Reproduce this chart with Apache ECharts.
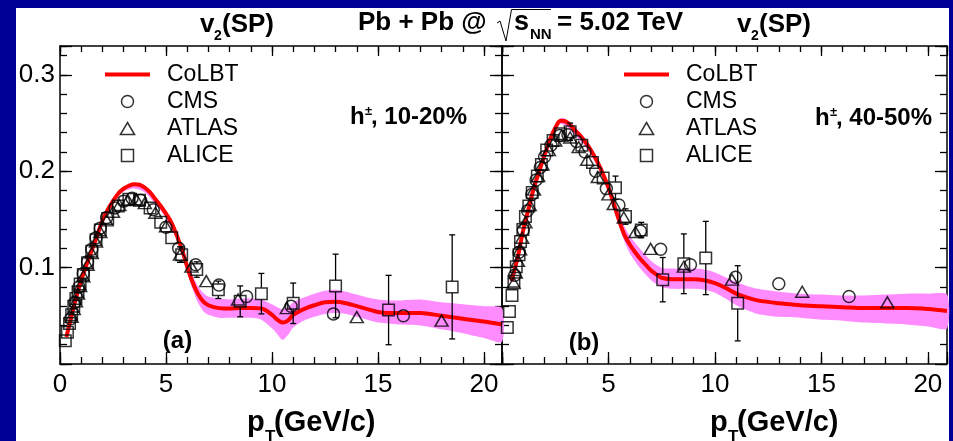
<!DOCTYPE html>
<html><head><meta charset="utf-8">
<script src="https://cdn.jsdelivr.net/npm/echarts@6/dist/echarts.min.js"></script>
<style>
html,body{margin:0;padding:0;background:#000096;overflow:hidden;}
#bg{position:absolute;left:16px;top:8px;width:933px;height:433px;background:#fff;}
#chart{position:absolute;left:0;top:0;width:953px;height:441px;}
</style></head><body>
<div id="bg"></div><div id="chart"></div>
<script>
// ---------------- data ----------------
// CoLBT curve, panel (a) 10-20% : [pT, v2]
const colbtA = [[0.3,0.028],[0.5,0.046],[0.75,0.068],[1.0,0.087],[1.25,0.103],[1.5,0.118],[1.75,0.133],[2.0,0.149],[2.25,0.160],[2.5,0.169],[2.75,0.177],[3.0,0.182],[3.25,0.185],[3.5,0.1865],[3.75,0.186],[4.0,0.183],[4.25,0.178],[4.5,0.171],[4.75,0.164],[5.0,0.156],[5.25,0.147],[5.5,0.134],[5.75,0.119],[6.0,0.101],[6.25,0.085],[6.5,0.073],[6.75,0.065],[7.0,0.061],[7.5,0.058],[8.0,0.0575],[8.5,0.058],[9.0,0.058],[9.5,0.0575],[10.0,0.051],[10.25,0.046],[10.5,0.043],[10.75,0.045],[11.0,0.051],[11.5,0.057],[12.0,0.061],[12.5,0.064],[13.0,0.0645],[13.5,0.063],[14.0,0.060],[14.5,0.057],[15.0,0.054],[15.5,0.053],[16.0,0.053],[17.0,0.053],[18.0,0.050],[19.0,0.047],[20.0,0.044],[20.85,0.041]];
// CoLBT uncertainty band, panel (a): [pT, low, high]
const bandA = [[0.3,0.026,0.030],[0.75,0.066,0.070],[1.25,0.101,0.105],[1.75,0.131,0.135],[2.25,0.158,0.162],[2.75,0.175,0.179],[3.0,0.179,0.184],[3.5,0.182,0.188],[4.0,0.178,0.185],[4.5,0.166,0.173],[5.0,0.151,0.159],[5.5,0.130,0.138],[6.0,0.095,0.106],[6.25,0.078,0.092],[6.5,0.064,0.081],[6.75,0.055,0.074],[7.0,0.051,0.070],[7.5,0.048,0.068],[8.0,0.048,0.067],[8.5,0.048,0.068],[9.0,0.048,0.068],[9.5,0.046,0.067],[10.0,0.037,0.062],[10.25,0.031,0.059],[10.5,0.025,0.057],[10.75,0.030,0.059],[11.0,0.038,0.064],[11.5,0.045,0.069],[12.0,0.049,0.073],[12.5,0.052,0.076],[13.0,0.053,0.077],[13.5,0.052,0.075],[14.0,0.049,0.072],[14.5,0.046,0.069],[15.0,0.043,0.067],[15.5,0.042,0.066],[16.0,0.041,0.066],[17.0,0.040,0.067],[18.0,0.036,0.064],[19.0,0.032,0.062],[20.0,0.027,0.060],[20.85,0.023,0.058]];
// experimental points, panel (a): [pT, v2, error]
const cmsA = [[0.5,0.047,0],[0.7,0.064,0],[0.9,0.080,0],[1.1,0.094,0],[1.3,0.106,0],[1.5,0.119,0],[1.7,0.131,0],[1.9,0.141,0],[2.2,0.152,0],[2.6,0.162,0],[3.0,0.169,0],[3.4,0.172,0],[3.8,0.170,0],[4.4,0.160,0],[5.0,0.142,0],[5.6,0.120,0],[6.4,0.103,0.004],[7.5,0.082,0.006],[8.8,0.070,0.004],[10.9,0.060,0.004],[12.9,0.052,0.004],[16.2,0.050,0.003]];
const atlasA = [[0.55,0.049,0],[0.65,0.057,0],[0.75,0.065,0],[0.85,0.073,0],[0.95,0.081,0],[1.1,0.091,0],[1.3,0.103,0],[1.5,0.115,0],[1.7,0.127,0],[1.9,0.137,0],[2.2,0.149,0],[2.5,0.158,0],[2.8,0.165,0],[3.2,0.170,0],[3.6,0.171,0],[4.0,0.167,0],[4.5,0.157,0],[5.0,0.143,0],[5.66,0.1135,0.008],[6.2,0.101,0],[6.9,0.086,0],[8.4,0.067,0],[10.7,0.058,0],[14.0,0.0486,0],[18.0,0.045,0]];
const aliceA = [[0.25,0.024,0],[0.35,0.033,0],[0.45,0.042,0],[0.55,0.051,0],[0.65,0.060,0],[0.75,0.068,0],[0.85,0.075,0],[0.95,0.083,0],[1.1,0.093,0],[1.3,0.105,0],[1.5,0.117,0],[1.7,0.129,0],[1.9,0.139,0],[2.25,0.151,0],[2.75,0.164,0],[3.25,0.171,0],[3.75,0.170,0],[4.25,0.162,0.003],[4.75,0.147,0.004],[5.27,0.131,0.006],[5.74,0.1135,0.008],[6.45,0.098,0.008],[7.47,0.077,0.009],[8.5,0.065,0.016],[9.5,0.073,0.021],[11.0,0.063,0.021],[13.0,0.081,0.033],[15.5,0.056,0.036],[18.5,0.080,0.054]];

// CoLBT curve, panel (b) 40-50%
const colbtB = [[0.45,0.086],[0.5,0.090],[0.75,0.112],[1.0,0.139],[1.25,0.161],[1.5,0.183],[1.75,0.200],[2.0,0.217],[2.25,0.233],[2.5,0.245],[2.75,0.2525],[3.0,0.2515],[3.25,0.247],[3.5,0.241],[3.75,0.235],[4.0,0.228],[4.25,0.219],[4.5,0.209],[4.75,0.197],[5.0,0.183],[5.25,0.166],[5.5,0.149],[5.75,0.134],[6.0,0.124],[6.25,0.116],[6.5,0.109],[6.75,0.103],[7.0,0.097],[7.25,0.093],[7.5,0.0895],[8.0,0.088],[8.5,0.088],[9.0,0.088],[9.5,0.087],[10.0,0.084],[10.5,0.079],[11.0,0.073],[11.5,0.069],[12.0,0.066],[13.0,0.063],[14.0,0.061],[15.0,0.060],[16.0,0.059],[17.0,0.058],[18.0,0.058],[19.0,0.058],[20.0,0.057],[20.9,0.055]];
const bandB = [[0.45,0.084,0.088],[1.0,0.137,0.141],[1.5,0.181,0.185],[2.0,0.215,0.219],[2.5,0.243,0.247],[2.75,0.249,0.255],[3.0,0.247,0.254],[3.5,0.236,0.243],[4.0,0.223,0.231],[4.5,0.204,0.212],[5.0,0.178,0.187],[5.25,0.160,0.172],[5.5,0.143,0.157],[5.75,0.127,0.143],[6.0,0.115,0.133],[6.5,0.099,0.119],[7.0,0.087,0.107],[7.5,0.080,0.100],[8.0,0.078,0.099],[9.0,0.078,0.099],[9.5,0.077,0.098],[10.0,0.074,0.095],[10.5,0.068,0.090],[11.0,0.061,0.085],[11.5,0.056,0.081],[12.0,0.052,0.078],[13.0,0.049,0.075],[14.0,0.048,0.073],[15.0,0.046,0.072],[16.0,0.045,0.071],[17.0,0.043,0.071],[18.0,0.042,0.072],[19.0,0.041,0.073],[20.0,0.039,0.073],[20.9,0.037,0.072]];
const cmsB = [[0.6,0.092,0],[0.8,0.116,0],[1.0,0.139,0],[1.2,0.159,0],[1.4,0.176,0],[1.6,0.191,0],[1.8,0.204,0],[2.0,0.215,0],[2.3,0.227,0],[2.7,0.237,0],[3.1,0.238,0],[3.5,0.231,0],[3.9,0.220,0],[4.4,0.200,0],[4.9,0.182,0],[5.49,0.165,0],[6.5,0.138,0.005],[7.45,0.119,0],[8.85,0.103,0.003],[10.97,0.090,0.006],[13.0,0.0833,0.005],[16.3,0.070,0.005]];
const atlasB = [[0.55,0.084,0],[0.65,0.095,0],[0.75,0.107,0],[0.85,0.119,0],[0.95,0.131,0],[1.1,0.147,0],[1.3,0.165,0],[1.5,0.181,0],[1.7,0.195,0],[1.9,0.207,0],[2.2,0.222,0],[2.5,0.232,0],[2.8,0.237,0],[3.2,0.235,0],[3.6,0.225,0],[4.0,0.212,0],[4.5,0.194,0],[5.0,0.176,0],[5.25,0.166,0],[5.72,0.152,0],[6.27,0.137,0],[6.98,0.1195,0],[8.54,0.101,0],[10.8,0.0875,0],[14.1,0.075,0],[18.1,0.064,0]];
const aliceB = [[0.25,0.038,0],[0.35,0.0545,0],[0.47,0.071,0],[0.56,0.086,0],[0.67,0.101,0],[0.8,0.1135,0],[0.87,0.127,0],[0.98,0.1395,0],[1.1,0.153,0],[1.26,0.164,0],[1.42,0.178,0],[1.66,0.195,0],[1.85,0.207,0],[2.1,0.222,0],[2.4,0.232,0],[2.75,0.239,0],[3.2,0.241,0.009],[3.75,0.227,0],[4.25,0.209,0.005],[4.75,0.193,0.006],[5.33,0.183,0.012],[5.8,0.153,0.008],[6.54,0.139,0.008],[7.55,0.0875,0.023],[8.54,0.104,0.031],[9.57,0.110,0.038],[11.07,0.063,0.039]];

// axis ticks
const xMajor = 5, xMinor = 1, yMajor = 0.1, yMinor = 0.02;
const xMaxA = 20.85, xMaxB = 20.9, yMin = 0, yMax = 0.33;
const legendNames = ['CoLBT', 'CMS', 'ATLAS', 'ALICE'];

// ---------------- styling / layout ----------------
const FONT = '"Liberation Sans", Arial, Helvetica, sans-serif';
const BAND = '#ff8cff', RED = '#ff0000';
const rectA = {left: 60, top: 46, width: 442, height: 318};
const rectB = {left: 502, top: 46, width: 445, height: 318};
// grids 0,1: main axes; grids 2,3: same rectangles, carrying the minor ticks
const grids = [rectA, rectB, rectA, rectB].map(r => Object.assign({outerBoundsMode: 'none', containLabel: false}, r));

function isMult(v, m) { return Math.abs(v / m - Math.round(v / m)) < 1e-6; }

const xAxes = [], yAxes = [];
function ax(g, pos, min, max, interval, len, lineShow, label) {
  return {type: 'value', gridIndex: g, position: pos, min: min, max: max, interval: interval,
    splitLine: {show: false}, minorTick: {show: false},
    axisLine: {show: lineShow, onZero: false, lineStyle: {color: '#000', width: 1.5}},
    axisTick: {show: true, inside: true, length: len, lineStyle: {color: '#000', width: 1.3}},
    axisLabel: label || {show: false}};
}
function addPanel(g, xmax, showY, hideX0) {
  const xl = {show: true, margin: 8, fontSize: 26, color: '#000', fontFamily: FONT, showMaxLabel: true, showMinLabel: true,
    formatter: v => (isMult(v, xMajor) && !(hideX0 && v === 0)) ? String(Math.round(v)) : ''};
  const yl = {show: showY, margin: 5, fontSize: 26, color: '#000', fontFamily: FONT,
    formatter: v => (v > 0.05 && isMult(v, yMajor)) ? v.toFixed(1) : ''};
  // main grid g: xAxis index 2g (bottom), 2g+1 (top); yAxis 2g (left), 2g+1 (right)
  xAxes[2 * g] = ax(g, 'bottom', 0, xmax, xMajor, 12, true, xl);
  xAxes[2 * g + 1] = ax(g, 'top', 0, xmax, xMajor, 10, true);
  yAxes[2 * g] = ax(g, 'left', yMin, yMax, yMajor, 12, true, yl);
  yAxes[2 * g + 1] = ax(g, 'right', yMin, yMax, yMajor, 12, true);
  // minor grid g+2
  const m = g + 2;
  xAxes[2 * m] = ax(m, 'bottom', 0, xmax, xMinor, 7, false);
  xAxes[2 * m + 1] = ax(m, 'top', 0, xmax, xMinor, 6, false);
  yAxes[2 * m] = ax(m, 'left', yMin, yMax, yMinor, 7, false);
  yAxes[2 * m + 1] = ax(m, 'right', yMin, yMax, yMinor, 7, false);
}
addPanel(0, xMaxA, true, false);
addPanel(1, xMaxB, false, true);

const markStyle = {color: 'rgba(0,0,0,0)', borderColor: '#000', borderWidth: 1.5};
const GAP = 6;

function bandSeries(g, band) {
  return {type: 'custom', xAxisIndex: 2 * g, yAxisIndex: 2 * g, silent: true, z: 1,
    data: band.map(d => [d[0], d[1], d[2]]),
    encode: {x: 0, y: [1, 2]},
    renderItem: function (params, api) {
      if (params.dataIndex !== 0) return null;
      const pts = [];
      for (let i = 0; i < band.length; i++) pts.push(api.coord([band[i][0], band[i][2]]));
      for (let i = band.length - 1; i >= 0; i--) pts.push(api.coord([band[i][0], band[i][1]]));
      return {type: 'polygon', shape: {points: pts, smooth: 0.25}, style: {fill: BAND, stroke: null}};
    }};
}
function curveSeries(g, curve) {
  return {type: 'line', name: legendNames[0], xAxisIndex: 2 * g, yAxisIndex: 2 * g, z: 2,
    data: curve, symbol: 'none', showSymbol: false, smooth: 0.35, color: RED,
    lineStyle: {color: RED, width: 4}, silent: true};
}
function errSeries(g, sets) {
  const data = [];
  sets.forEach(s => s.forEach(d => { if (d[2] > 0) data.push([d[0], d[1], d[2]]); }));
  return {type: 'custom', xAxisIndex: 2 * g, yAxisIndex: 2 * g, silent: true, z: 3,
    data: data, encode: {x: 0, y: 1},
    renderItem: function (params, api) {
      const x = api.value(0), y = api.value(1), e = api.value(2);
      const c = api.coord([x, y]), t = api.coord([x, y + e]), b = api.coord([x, y - e]);
      const st = {stroke: '#000', lineWidth: 1.3};
      const ch = [];
      if (c[1] - GAP > t[1]) {
        ch.push({type: 'line', shape: {x1: c[0], y1: t[1], x2: c[0], y2: c[1] - GAP}, style: st});
        ch.push({type: 'line', shape: {x1: c[0] - 3, y1: t[1], x2: c[0] + 3, y2: t[1]}, style: st});
      }
      if (b[1] > c[1] + GAP) {
        ch.push({type: 'line', shape: {x1: c[0], y1: c[1] + GAP, x2: c[0], y2: b[1]}, style: st});
        ch.push({type: 'line', shape: {x1: c[0] - 3, y1: b[1], x2: c[0] + 3, y2: b[1]}, style: st});
      }
      return {type: 'group', children: ch};
    }};
}
function markSeries(g, name, arr, symbol, size) {
  return {type: 'scatter', name: name, xAxisIndex: 2 * g, yAxisIndex: 2 * g, z: 4,
    data: arr.map(d => [d[0], d[1]]), symbol: symbol, symbolSize: size,
    itemStyle: markStyle, silent: true};
}

const series = [
  bandSeries(0, bandA), curveSeries(0, colbtA), errSeries(0, [cmsA, atlasA, aliceA]),
  markSeries(0, legendNames[1], cmsA, 'circle', 12), markSeries(0, legendNames[2], atlasA, 'triangle', [13, 11]), markSeries(0, legendNames[3], aliceA, 'rect', 11.5),
  bandSeries(1, bandB), curveSeries(1, colbtB), errSeries(1, [cmsB, atlasB, aliceB]),
  markSeries(1, legendNames[1], cmsB, 'circle', 12), markSeries(1, legendNames[2], atlasB, 'triangle', [13, 11]), markSeries(1, legendNames[3], aliceB, 'rect', 11.5)
];

function legendAt(left) {
  return {left: left, top: 61, orient: 'vertical', padding: 0, itemGap: 0, itemWidth: 45, itemHeight: 12,
    selectedMode: false, symbolKeepAspect: true,
    textStyle: {fontSize: 23, color: '#000', fontFamily: FONT, lineHeight: 27, padding: [0, 0, 0, 12]},
    itemStyle: {color: 'rgba(0,0,0,0)', borderColor: '#000', borderWidth: 1.5},
    data: [
      {name: legendNames[0], icon: 'path://M0,0H45V4H0Z', itemStyle: {color: RED, borderWidth: 0}},
      {name: legendNames[1], icon: 'circle'},
      {name: legendNames[2], icon: 'path://M6.5,0L13,11L0,11Z'},
      {name: legendNames[3], icon: 'path://M0,0H10V10H0Z'}
    ]};
}

function T(x, y, text, size, bold, align) {
  const f = (bold ? 'bold ' : '') + size + 'px ' + FONT;
  return {type: 'text', x: x, y: y, z: 10, silent: true,
    style: {text: text, font: f, fill: '#000', textAlign: align || 'left', align: align || 'left',
      textVerticalAlign: 'middle', verticalAlign: 'middle'}};
}
const graphics = [
  // panel titles v2(SP)
  T(200, 24.5, 'v', 26, true), T(214, 36, '2', 14, true), T(222, 24.5, '(SP)', 26, true),
  T(737, 24.5, 'v', 26, true), T(751, 36, '2', 14, true), T(759, 24.5, '(SP)', 26, true),
  // collision system
  T(358, 23, 'Pb + Pb @', 26, true), T(514, 23, 's', 27, true), T(530, 35, 'NN', 15, true),
  T(557, 23, '= 5.02 TeV', 26, true),
  {type: 'polyline', z: 10, silent: true, shape: {points: [[497, 23], [500, 21], [506, 41], [511.5, 9.5], [551, 9.5]]},
    style: {stroke: '#000', lineWidth: 1, fill: null}},
  // centrality labels
  T(350, 117, 'h', 24, true), T(365, 111, '±', 13, true), T(371, 117, ', 10-20%', 24, true),
  T(815, 118, 'h', 24, true), T(830, 112, '±', 13, true), T(836, 118, ', 40-50%', 24, true),
  // panel letters
  T(177.5, 341.5, '(a)', 24, true, 'center'), T(584, 343, '(b)', 24, true, 'center'),
  // x axis titles
  T(247, 423, 'p', 29, true), T(265, 437, 'T', 17, true), T(274, 423, '(GeV/c)', 29, true),
  T(710, 423, 'p', 29, true), T(728, 437, 'T', 17, true), T(737, 423, '(GeV/c)', 29, true)
];

const chart = echarts.init(document.getElementById('chart'), null, {renderer: 'canvas'});
chart.setOption({
  animation: false,
  backgroundColor: 'transparent',
  grid: grids,
  xAxis: xAxes,
  yAxis: yAxes,
  legend: [legendAt(105), legendAt(624)],
  series: series,
  graphic: {elements: graphics}
});
</script></body></html>
